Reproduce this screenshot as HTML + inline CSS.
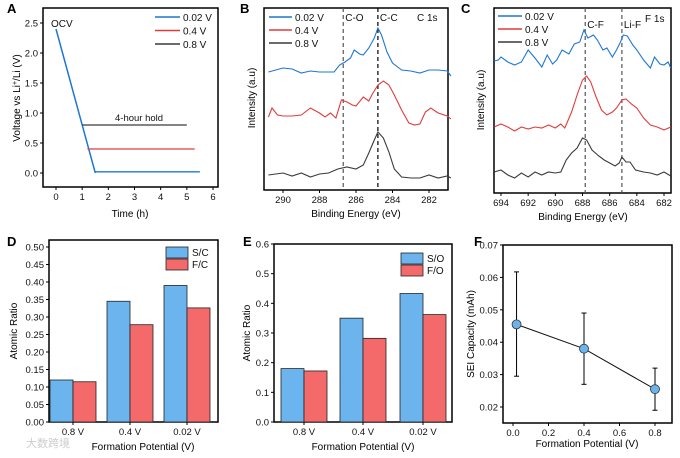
<!DOCTYPE html>
<html><head><meta charset="utf-8"><style>
html,body{margin:0;padding:0;background:#fff}
svg{display:block;font-family:"Liberation Sans",Arial,sans-serif}
</style></head><body>
<svg id="fig" width="680" height="458" viewBox="0 0 680 458" xmlns="http://www.w3.org/2000/svg"></svg>
<script>
// ---------- DATA ----------
// Panel A
const aLegend = ["0.02 V","0.4 V","0.8 V"];
const aHoldV = [0.02, 0.4, 0.8];
const aHoldStart = [1.5, 1.2, 1.0];
const aHoldEnd = [5.5, 5.3, 5.0];
const aOCV = 2.4;
const aXTicks = [0,1,2,3,4,5,6];
const aYTicks = [0,0.5,1.0,1.5,2.0,2.5];
// Panel B (C 1s)
const bEnergy1 = [290.8,290,289.5,289,288.5,288,287.5,287.2,286.9,286.6,286.3,286.1,285.8,285.6,285.3,285.0,284.8,284.6,284.3,284.0,283.5,283,282.5,282,281.5,281,280.8];
const bBlue = [118,122,121,117,119,118,118,118,125,128,132,140,136,135,142,152,162,155,138,127,120,119,117,120,120,119,114];
const bEnergy2 = [290.8,290.6,290.3,290,289.5,289,288.5,288,287.7,287.4,287.1,286.8,286.5,286.2,286,285.6,285.3,285.1,284.8,284.5,284.2,283.9,283.5,283.1,282.8,282.5,282.2,281.9,281.5,281,280.8];
const bRed = [73,82,75,74,74,75,82,77,73,77,72,90,88,85,84,93,89,96,105,109,105,95,80,67,65,66,78,82,77,74,71];
const bEnergy3 = [290.8,290,289.5,289,288.5,288,287.5,287,286.5,286,285.6,285.3,285,284.8,284.5,284.2,283.9,283.5,283,282.5,282,281.5,281,280.8];
const bBlack = [15,17,14,17,13,16,17,21,23,21,25,37,50,58,52,38,21,13,12,12,15,12,14,12];
const bXTicks = [290,288,286,284,282];
const bPeaks = [286.7, 284.8];
const bPeakLabels = ["C-O","C-C"];
// Panel C (F 1s)
const cEnergy1 = [694.5,694.2,694,693.5,693,692.5,692,691.5,691,690.6,690.2,689.9,689.5,689,688.6,688.2,687.9,687.6,687.2,686.9,686.5,686.2,685.8,685.5,685.2,685,684.7,684.3,684,683.5,683,682.7,682.3,682,681.7,681.5];
const cBlue = [132,133,136,131,128,131,143,135,126,138,129,133,143,139,149,151,163,155,158,153,143,145,136,143,151,158,157,148,143,133,125,136,129,128,131,125];
const cEnergy2 = [694.5,694,693.5,693,692.5,692,691.5,691,690.5,690,689.6,689.3,688.8,688.4,688,687.7,687.4,687,686.6,686.2,685.8,685.5,685.1,684.8,684.4,684,683.5,683,682.5,682,681.5];
const cRed = [66,69,66,62,66,64,66,65,68,65,69,65,81,98,113,117,111,96,83,78,81,85,93,94,89,85,75,68,66,63,66];
const cEnergy3 = [694.5,694,693.5,693,692.5,692,691.5,691,690.5,690,689.6,689.2,688.8,688.4,688,687.7,687.3,686.8,686.4,686,685.6,685.3,685.1,684.8,684.5,684.1,683.5,683,682.5,682,681.5];
const cBlack = [21,23,18,15,20,16,21,18,21,20,21,33,40,45,55,53,43,37,33,30,27,30,36,31,31,23,21,20,18,21,17];
const cXTicks = [694,692,690,688,686,684,682];
const cPeaks = [687.8, 685.1];
const cPeakLabels = ["C-F","Li-F"];
// Panel D
const dCats = ["0.8 V","0.4 V","0.02 V"];
const dSC = [0.12,0.345,0.39];
const dFC = [0.115,0.278,0.326];
const dYTicks = [0,0.05,0.10,0.15,0.20,0.25,0.30,0.35,0.40,0.45,0.50];
// Panel E
const eCats = ["0.8 V","0.4 V","0.02 V"];
const eSO = [0.18,0.35,0.433];
const eFO = [0.172,0.282,0.362];
const eYTicks = [0,0.1,0.2,0.3,0.4,0.5,0.6];
// Panel F
const fX = [0.02,0.4,0.8];
const fY = [0.0455,0.038,0.0255];
const fLo = [0.0295,0.027,0.019];
const fHi = [0.0617,0.049,0.032];
const fXTicks = [0.0,0.2,0.4,0.6,0.8];
const fYTicks = [0.02,0.03,0.04,0.05,0.06,0.07];

// ---------- HELPERS ----------
const NS="http://www.w3.org/2000/svg";
const svg=document.getElementById('fig');
function mk(tag,attrs,parent,txt){const e=document.createElementNS(NS,tag);for(const k in attrs)e.setAttribute(k,attrs[k]);if(txt!==undefined)e.textContent=txt;(parent||svg).appendChild(e);return e;}
function lin(d0,d1,r0,r1){return v=>r0+(v-d0)*(r1-r0)/(d1-d0);}
const BLUE="#1f77d4", RED="#e03c3c", GRAY="#3a3a3a";
function group(name){const g=mk('g',{});return g;}
function box(g,x0,y0,x1,y1){const r=mk('rect',{x:x0,y:y0,width:x1-x0,height:y1-y0,fill:'none',stroke:'#000','stroke-width':1.5},g);}
function txt(g,x,y,s,opt){const t=mk('text',Object.assign({x:x,y:y,'font-size':9.5,fill:'#111'},opt||{}),g,s);return t;}
function xTicks(g,ticks,sx,y,fmt,minor){ticks.forEach(v=>{const x=sx(v);mk('line',{x1:x,x2:x,y1:y,y2:y+3,stroke:'#000'},g);const t=txt(g,x,y+13,fmt(v),{'text-anchor':'middle'});});}
function yTicks(g,ticks,sy,x,fmt){ticks.forEach(v=>{const y=sy(v);mk('line',{x1:x,x2:x-3,y1:y,y2:y,stroke:'#000'},g);const t=txt(g,x-5,y+3.5,fmt(v),{'text-anchor':'end'});});}
function path(g,xs,ys,sx,sy,color,w){let d='';xs.forEach((v,i)=>{d+=(i?'L':'M')+sx(v).toFixed(1)+','+sy(ys[i]).toFixed(1);});return mk('path',{d:d,fill:'none',stroke:color,'stroke-width':w||1},g);}
function panelLetter(x,y,s){const t=mk('text',{x:x,y:y,'font-size':13,'font-weight':'bold'},svg,s);}
function ylabel(g,x,y,s,name){const t=mk('text',{x:0,y:0,'font-size':10,'text-anchor':'middle',transform:`translate(${x},${y}) rotate(-90)`},g,s);return t;}
function xlabel(g,x,y,s){const t=mk('text',{x:x,y:y,'font-size':10,'text-anchor':'middle'},g,s);}
function legendLine(g,x0,x1,y,color,label){const l=mk('line',{x1:x0,x2:x1,y1:y,y2:y,stroke:color,'stroke-width':1.5},g);const t=txt(g,x1+3,y+4,label,{'font-size':10});}

// ---------- PANEL A ----------
(function(){
const g=group('panel-a');
const sx=lin(0,6,56,213), sy=lin(0,2.5,173,23);
box(g,43,8,218,187);
const cols=[BLUE,RED,GRAY];
path(g,[0,1.5],[aOCV,0],sx,sy,BLUE,1.5);
aHoldV.forEach((v,i)=>{const l=path(g,[aHoldStart[i],aHoldEnd[i]],[v,v],sx,sy,cols[i],1.3);});
xTicks(g,aXTicks,sx,187,v=>v);
yTicks(g,aYTicks,sy,43,v=>v.toFixed(1));
txt(g,51,27,'OCV',{'font-size':10});
txt(g,115,121,'4-hour hold',{'font-size':9.5});
aLegend.forEach((s,i)=>legendLine(g,155,180,17+i*13.5,cols[i],s));
xlabel(g,130,217,'Time (h)');
const yl=ylabel(g,20,98,'');yl.innerHTML='Voltage vs Li<tspan dy="-3" font-size="7">+</tspan><tspan dy="3">/Li (V)</tspan>';
})();
panelLetter(7,13,'A');

// ---------- PANEL B ----------
(function(){
const g=group('panel-b');
const sx=lin(290,282,283,429), sy=lin(0,182,190,8);
box(g,264,8,448,190);
bPeaks.forEach((p,i)=>{mk('line',{x1:sx(p),x2:sx(p),y1:8,y2:190,stroke:i?'#000':'#555','stroke-dasharray':'4,3','stroke-width':1.2},g);txt(g,sx(p)+2,21,bPeakLabels[i],{'font-size':10});});
path(g,bEnergy1,bBlue,sx,sy,BLUE,1.1);
path(g,bEnergy2,bRed,sx,sy,RED,1.1);
path(g,bEnergy3,bBlack,sx,sy,GRAY,1.1);
xTicks(g,bXTicks,sx,190,v=>v);
["0.02 V","0.4 V","0.8 V"].forEach((s,i)=>legendLine(g,269,292,17+i*13,[BLUE,RED,GRAY][i],s));
txt(g,417,21,'C 1s',{'font-size':10});
xlabel(g,356,217,'Binding Energy (eV)');
ylabel(g,255,98,'Intensity (a.u)');
})();
panelLetter(240,13,'B');

// ---------- PANEL C ----------
(function(){
const g=group('panel-c');
const sx=lin(694,682,501,664), sy=lin(0,185,193,8);
box(g,494,8,671,193);
cPeaks.forEach((p,i)=>{mk('line',{x1:sx(p),x2:sx(p),y1:8,y2:193,stroke:'#555','stroke-dasharray':'4,3','stroke-width':1.2},g);txt(g,sx(p)+2,28,cPeakLabels[i],{'font-size':10});});
path(g,cEnergy1,cBlue,sx,sy,BLUE,1.1);
path(g,cEnergy2,cRed,sx,sy,RED,1.1);
path(g,cEnergy3,cBlack,sx,sy,GRAY,1.1);
xTicks(g,cXTicks,sx,193,v=>v);
["0.02 V","0.4 V","0.8 V"].forEach((s,i)=>legendLine(g,498,522,16+i*13,[BLUE,RED,GRAY][i],s));
txt(g,645,22,'F 1s',{'font-size':10});
xlabel(g,583,220,'Binding Energy (eV)');
ylabel(g,484,100,'Intensity (a.u)');
})();
panelLetter(461,13,'C');

// ---------- BAR PANELS ----------
function barPanel(name,x0,x1,y0,y1,ymax,cats,s1,s2,l1,l2,yt,fmt,centers,bw,legX,legY){
const g=group(name);
const sy=lin(0,ymax,y1,y0);
box(g,x0,y0,x1,y1);
cats.forEach((c,i)=>{
 const cx=centers[i];
 const b=mk('rect',{x:cx-bw,y:sy(s1[i]),width:bw,height:y1-sy(s1[i]),fill:'#6cb4ee',stroke:'#222','stroke-width':0.8},g);
 
 const r=mk('rect',{x:cx,y:sy(s2[i]),width:bw,height:y1-sy(s2[i]),fill:'#f46a6a',stroke:'#222','stroke-width':0.8},g);
 
 mk('line',{x1:cx,x2:cx,y1:y1,y2:y1+3,stroke:'#000'},g);
 const t=txt(g,cx,y1+13,c,{'text-anchor':'middle'});
});
yTicks(g,yt,sy,x0,fmt);
mk('rect',{x:legX,y:legY,width:22,height:11,fill:'#6cb4ee',stroke:'#222','stroke-width':0.8},g);
mk('rect',{x:legX,y:legY+12,width:22,height:11,fill:'#f46a6a',stroke:'#222','stroke-width':0.8},g);
let t=txt(g,legX+26,legY+9,l1,{'font-size':10});
t=txt(g,legX+26,legY+21,l2,{'font-size':10});
return g;
}
(function(){
const g=barPanel('panel-d',49,218,240,422,0.52,dCats,dSC,dFC,'S/C','F/C',dYTicks,v=>v.toFixed(2),[73,130,187],23,166,247);
xlabel(g,143,450,'Formation Potential (V)');
ylabel(g,17,331,'Atomic Ratio');
})();
panelLetter(7,246,'D');
(function(){
const g=barPanel('panel-e',274,452,244,422,0.6,eCats,eSO,eFO,'S/O','F/O',eYTicks,v=>v.toFixed(1),[304,363,423],23,401,253);
xlabel(g,363,450,'Formation Potential (V)');
ylabel(g,250,333,'Atomic Ratio');
})();
panelLetter(243,246,'E');

// ---------- PANEL F ----------
(function(){
const g=group('panel-f');
const sx=lin(0,0.8,513,655), sy=lin(0.02,0.07,407,245);
box(g,503,245,672,423);
xTicks(g,fXTicks,sx,423,v=>v.toFixed(1));
yTicks(g,fYTicks,sy,503,v=>v.toFixed(2));
fX.forEach((x,i)=>{
 const X=sx(x);
 mk('line',{x1:X,x2:X,y1:sy(fLo[i]),y2:sy(fHi[i]),stroke:'#000','stroke-width':1},g);
 mk('line',{x1:X-2.5,x2:X+2.5,y1:sy(fLo[i]),y2:sy(fLo[i]),stroke:'#000'},g);
 mk('line',{x1:X-2.5,x2:X+2.5,y1:sy(fHi[i]),y2:sy(fHi[i]),stroke:'#000'},g);
});
path(g,fX,fY,sx,sy,'#111',1);
fX.forEach((x,i)=>{const c=mk('circle',{cx:sx(x),cy:sy(fY[i]),r:4.5,fill:'#6cb4ee',stroke:'#333','stroke-width':0.8},g);});
xlabel(g,587,447,'Formation Potential (V)');
ylabel(g,474,334,'SEI Capacity (mAh)');
})();
panelLetter(474,246,'F');

// watermark
const wm=mk('text',{x:26,y:447,'font-size':11,fill:'#ccc','font-family':'"Liberation Sans","Noto Sans CJK SC",sans-serif'},svg,'大数跨境');


</script>
</body></html>
